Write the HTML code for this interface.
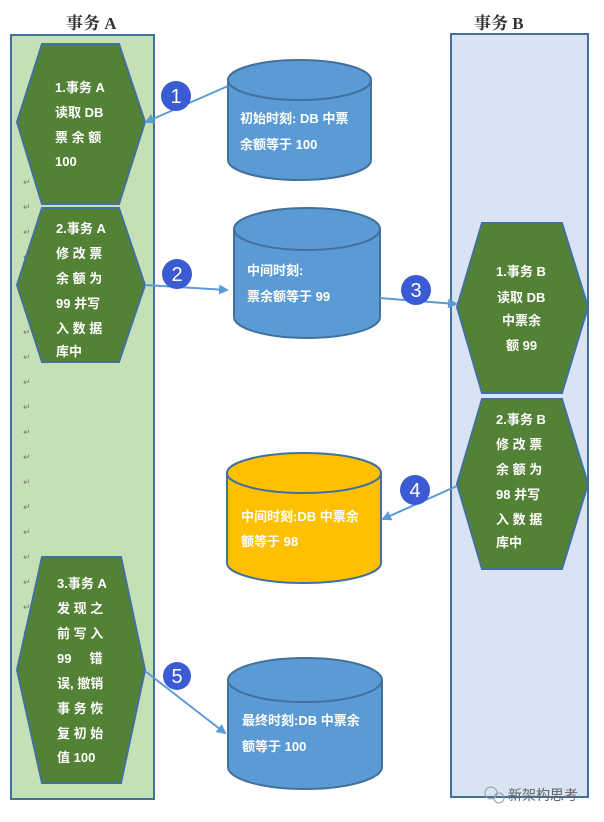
<!DOCTYPE html>
<html><head><meta charset="utf-8"><style>
body{margin:0;background:#fff;width:604px;height:822px;overflow:hidden}
svg{display:block}
.t{font-family:"Liberation Sans","Noto Sans CJK SC",sans-serif;font-weight:bold;font-size:13px;fill:#fff}
.h{font-family:"Liberation Serif","Noto Serif CJK SC",serif;font-weight:bold;font-size:17px;fill:#333}
.r{font-family:"DejaVu Sans",sans-serif;font-size:9px;fill:#777}
.n{font-family:"Liberation Sans",sans-serif;font-size:20px;fill:#fff;text-anchor:middle}
</style></head><body>
<svg width="604" height="822" viewBox="0 0 604 822" xmlns="http://www.w3.org/2000/svg">
<defs><marker id="a" markerWidth="10" markerHeight="10" refX="8" refY="5" orient="auto" markerUnits="userSpaceOnUse"><path d="M0,0 L10,5 L0,10 z" fill="#5b9bd5"/></marker></defs>
<text class="h" x="66" y="29">事务 A</text>
<text class="h" x="474" y="29">事务 B</text>
<rect x="11" y="35" width="143" height="764" fill="#c5e0b4" stroke="#41719c" stroke-width="2"/>
<rect x="451" y="34" width="137" height="763" fill="#dae3f3" stroke="#41719c" stroke-width="2"/>
<g class="r">
<text x="23" y="185">↵</text><text x="23" y="210">↵</text><text x="23" y="235">↵</text><text x="23" y="260">↵</text><text x="23" y="285">↵</text><text x="23" y="310">↵</text><text x="23" y="335">↵</text><text x="23" y="360">↵</text><text x="23" y="385">↵</text><text x="23" y="410">↵</text><text x="23" y="435">↵</text><text x="23" y="460">↵</text><text x="23" y="485">↵</text><text x="23" y="510">↵</text><text x="23" y="535">↵</text><text x="23" y="560">↵</text><text x="23" y="585">↵</text><text x="23" y="610">↵</text><text x="23" y="635">↵</text>
</g>
<g fill="#538135" stroke="#41719c" stroke-width="2">
<polygon points="42,44 119,44 145,122 119,204 42,204 17,122"/>
<polygon points="42,208 119,208 145,285 119,362 42,362 17,285"/>
<polygon points="42,557 121,557 145,670 121,783 42,783 17,670"/>
<polygon points="482,223 562,223 588,307 562,393 482,393 457,307"/>
<polygon points="482,399 562,399 588,484 562,569 482,569 457,484"/>
</g>
<g class="t">
<text x="55" y="92">1.事务 A</text><text x="55" y="117">读取 DB</text><text x="55" y="142">票 余 额</text><text x="55" y="166">100</text>
<text x="56" y="233">2.事务 A</text><text x="56" y="258">修 改 票</text><text x="56" y="283">余 额 为</text><text x="56" y="308">99 并写</text><text x="56" y="333">入 数 据</text><text x="56" y="356">库中</text>
<text x="57" y="588">3.事务 A</text><text x="57" y="613">发 现 之</text><text x="57" y="638">前 写 入</text><text x="57" y="663">99&#160;&#160;&#160;&#160;&#160;错</text><text x="57" y="688">误, 撤销</text><text x="57" y="713">事 务 恢</text><text x="57" y="738">复 初 始</text><text x="57" y="762">值 100</text>
<text x="496" y="276">1.事务 B</text><text x="497" y="302">读取 DB</text><text x="502" y="325">中票余</text><text x="506" y="350">额 99</text>
<text x="496" y="424">2.事务 B</text><text x="496" y="449">修 改 票</text><text x="496" y="474">余 额 为</text><text x="496" y="499">98 并写</text><text x="496" y="524">入 数 据</text><text x="496" y="547">库中</text>
</g>
<g stroke="#41719c" stroke-width="2">
<path d="M228,80 V160 A71.5,20 0 0 0 371,160 V80 Z" fill="#5b9bd5"/><ellipse cx="299.5" cy="80" rx="71.5" ry="20" fill="#5b9bd5"/>
<path d="M234,229 V317 A73,21 0 0 0 380,317 V229 Z" fill="#5b9bd5"/><ellipse cx="307" cy="229" rx="73" ry="21" fill="#5b9bd5"/>
<path d="M227,473 V563 A77,20 0 0 0 381,563 V473 Z" fill="#ffc000"/><ellipse cx="304" cy="473" rx="77" ry="20" fill="#ffc000"/>
<path d="M228,680 V767 A77,22 0 0 0 382,767 V680 Z" fill="#5b9bd5"/><ellipse cx="305" cy="680" rx="77" ry="22" fill="#5b9bd5"/>
</g>
<g class="t">
<text x="240" y="123">初始时刻: DB 中票</text><text x="240" y="149">余额等于 100</text>
<text x="247" y="275">中间时刻:</text><text x="247" y="301">票余额等于 99</text>
<text x="241" y="521">中间时刻:DB 中票余</text><text x="241" y="546">额等于 98</text>
<text x="242" y="725">最终时刻:DB 中票余</text><text x="242" y="751">额等于 100</text>
</g>
<g stroke="#5b9bd5" stroke-width="2" fill="none" marker-end="url(#a)">
<line x1="228" y1="86" x2="146" y2="122"/>
<line x1="145" y1="285" x2="227" y2="290"/>
<line x1="380" y1="298" x2="456" y2="304"/>
<line x1="457" y1="486" x2="383" y2="519"/>
<line x1="145" y1="671" x2="225" y2="733"/>
</g>
<g fill="#3a5bd4">
<circle cx="176" cy="96" r="15"/><circle cx="177" cy="274" r="15"/><circle cx="416" cy="290" r="15"/><circle cx="415" cy="490" r="15"/><circle cx="177" cy="676" r="14"/>
</g>
<g class="n"><text x="176" y="103">1</text><text x="177" y="281">2</text><text x="416" y="297">3</text><text x="415" y="497">4</text><text x="177" y="683">5</text></g>
<text x="508" y="800" font-family="Liberation Sans,Noto Sans CJK SC,sans-serif" font-size="14" fill="#666">新架构思考</text>
<circle cx="491" cy="793" r="6" fill="none" stroke="#999"/><circle cx="499" cy="798" r="5" fill="none" stroke="#999"/>
</svg>
</body></html>
